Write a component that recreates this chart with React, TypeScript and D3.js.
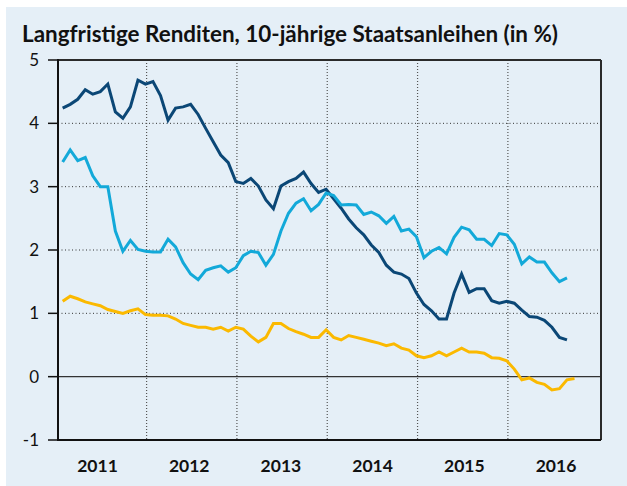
import React from "react";
import * as d3 from "d3";

// Monthly values, Jan 2011 onwards (index 0 = Jan 2011)
const euroArea: number[] = [
  4.24, 4.30, 4.38, 4.53, 4.46, 4.50, 4.62, 4.18, 4.08, 4.26, 4.68, 4.62,
  4.66, 4.44, 4.05, 4.24, 4.26, 4.30, 4.14, 3.92, 3.71, 3.50, 3.38, 3.08,
  3.05, 3.13, 3.01, 2.79, 2.65, 3.01, 3.08, 3.13, 3.23, 3.05, 2.91, 2.96,
  2.81, 2.66, 2.49, 2.35, 2.24, 2.08, 1.96, 1.76, 1.65, 1.62, 1.55, 1.32,
  1.14, 1.04, 0.91, 0.91, 1.32, 1.62, 1.33, 1.39, 1.39, 1.20, 1.16, 1.19,
  1.16, 1.05, 0.95, 0.94, 0.89, 0.78, 0.62, 0.58,
];
const usa: number[] = [
  3.39, 3.58, 3.41, 3.46, 3.17, 3.00, 3.00, 2.30, 1.98, 2.15, 2.01, 1.98,
  1.97, 1.97, 2.17, 2.05, 1.80, 1.62, 1.53, 1.68, 1.72, 1.75, 1.65, 1.72,
  1.91, 1.98, 1.96, 1.76, 1.93, 2.30, 2.58, 2.74, 2.81, 2.62, 2.72, 2.90,
  2.86, 2.71, 2.72, 2.71, 2.56, 2.60, 2.54, 2.42, 2.53, 2.30, 2.33, 2.21,
  1.88, 1.98, 2.04, 1.94, 2.20, 2.36, 2.32, 2.17, 2.17, 2.07, 2.26, 2.24,
  2.09, 1.78, 1.89, 1.81, 1.81, 1.64, 1.50, 1.56,
];
const japan: number[] = [
  1.19, 1.27, 1.23, 1.18, 1.15, 1.12, 1.06, 1.03, 1.00, 1.04, 1.07, 0.98,
  0.97, 0.97, 0.96, 0.91, 0.84, 0.81, 0.78, 0.78, 0.75, 0.78, 0.72, 0.78,
  0.75, 0.64, 0.55, 0.62, 0.84, 0.84, 0.76, 0.71, 0.67, 0.62, 0.62, 0.74,
  0.62, 0.58, 0.65, 0.62, 0.59, 0.56, 0.53, 0.49, 0.52, 0.45, 0.42, 0.33,
  0.30, 0.33, 0.39, 0.33, 0.39, 0.45, 0.39, 0.39, 0.37, 0.30, 0.29, 0.25,
  0.12, -0.05, -0.02, -0.09, -0.12, -0.21, -0.19, -0.05, -0.03,
];
const years: string[] = ["2011", "2012", "2013", "2014", "2015", "2016"];
const yTicks: number[] = [-1, 0, 1, 2, 3, 4, 5];
const title = "Langfristige Renditen, 10-jährige Staatsanleihen (in %)";

const W = 627;
const H = 486;
const left = 58, right = 601, top = 60, bottom = 440;
const FONT = "Lato, 'Open Sans', sans-serif";

export default function App() {
  const x = d3.scaleLinear().domain([-0.62, 71.52]).range([left, right]);
  const y = d3.scaleLinear().domain([-1, 5]).range([bottom, top]);
  const yearX = d3.scalePoint<string>().domain(years).range([97.5, 556]);

  const line = d3
    .line<number>()
    .x((_, i) => x(i))
    .y((d) => y(d));

  const series = [
    { data: japan, color: "#fbb900" },
    { data: euroArea, color: "#0b4776" },
    { data: usa, color: "#13a9d9" },
  ];

  const yearBounds = years.slice(1).map((_, k) => (k + 1) * 12 - 0.85);

  return (
    <svg
      width={W}
      height={H}
      style={{ position: "absolute", left: 0, top: 0, background: "#fff" }}
    >
      <rect x={6} y={7} width={W - 6} height={H - 7} fill="#e5eff7" />
      <text
        x={22}
        y={42}
        fontFamily={FONT}
        fontWeight={700}
        fontSize={22.5}
        textLength={536}
        lengthAdjust="spacingAndGlyphs"
        fill="#111"
      >
        {title}
      </text>

      {/* horizontal grid */}
      {yTicks
        .filter((t) => t > 0 && t < 5)
        .map((t) => (
          <line
            key={"h" + t}
            x1={left}
            x2={right}
            y1={y(t)}
            y2={y(t)}
            stroke="#333"
            strokeWidth={1}
            strokeDasharray="1,2.5"
          />
        ))}
      {/* vertical grid */}
      {yearBounds.map((b, k) => (
        <line
          key={"v" + k}
          x1={x(b)}
          x2={x(b)}
          y1={top}
          y2={bottom}
          stroke="#555"
          strokeWidth={1.2}
          strokeDasharray="1,2"
        />
      ))}

      {/* zero line */}
      <line x1={left} x2={right} y1={y(0)} y2={y(0)} stroke="#333" strokeWidth={1.3} />

      {/* frame */}
      <line x1={left} x2={right} y1={top} y2={top} stroke="#2a2a2a" strokeWidth={2} />
      <line x1={right} x2={right} y1={top} y2={bottom} stroke="#2a2a2a" strokeWidth={2} />
      <line x1={left} x2={right} y1={bottom} y2={bottom} stroke="#111" strokeWidth={2} />
      <line x1={left} x2={left} y1={top - 1} y2={bottom + 1} stroke="#111" strokeWidth={2} />

      {/* y ticks */}
      {yTicks.map((t) => (
        <g key={"t" + t}>
          <line x1={48} x2={left} y1={y(t)} y2={y(t)} stroke="#111" strokeWidth={1.5} />
          <text
            x={39}
            y={y(t)}
            dy="0.36em"
            textAnchor="end"
            fontFamily={FONT}
            fontSize={17}
            fill="#111"
          >
            {t}
          </text>
        </g>
      ))}

      {/* series */}
      {series.map((s, k) => (
        <path
          key={"s" + k}
          d={line(s.data) || ""}
          fill="none"
          stroke={s.color}
          strokeWidth={3}
          strokeLinejoin="miter"
        />
      ))}

      {/* year labels */}
      {years.map((yr) => (
        <text
          key={yr}
          x={yearX(yr)}
          y={472}
          textAnchor="middle"
          fontFamily={FONT}
          fontWeight={700}
          fontSize={17.5}
          fill="#111"
        >
          {yr}
        </text>
      ))}
    </svg>
  );
}
